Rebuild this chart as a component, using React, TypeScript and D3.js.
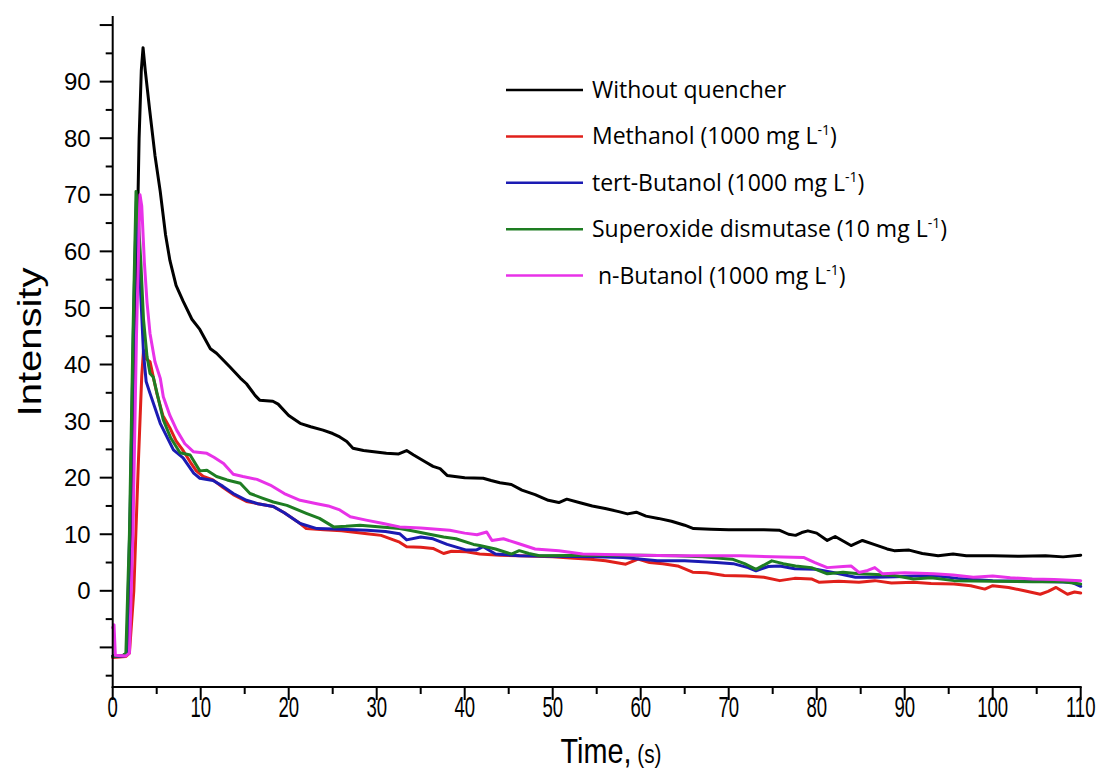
import React from "react";
import * as d3 from "d3";

type Pt = [number, number];

const SERIES_NAMES = [
  "Without quencher",
  "Methanol (1000 mg L",
  "tert-Butanol (1000 mg L",
  "Superoxide dismutase (10 mg L",
  " n-Butanol (1000 mg L",
];
const SERIES_SUP = [false, true, true, true, true];
const COLORS = ["#000000", "#e0201b", "#1b1bb3", "#1e7d22", "#e832e8"];

const X_TICKS = [0, 10, 20, 30, 40, 50, 60, 70, 80, 90, 100, 110];
const X_MINOR = [5, 15, 25, 35, 45, 55, 65, 75, 85, 95, 105];
const Y_TICKS = [-10, 0, 10, 20, 30, 40, 50, 60, 70, 80, 90, 100];
const Y_MINOR = [-15, -5, 5, 15, 25, 35, 45, 55, 65, 75, 85, 95];
const Y_LABELS = [0, 10, 20, 30, 40, 50, 60, 70, 80, 90];

const WITHOUT_QUENCHER: Pt[] = [
  [0, -11.5], [1.2, -11.4], [1.6, -11], [1.9, -5], [2.3, 20], [2.7, 55], [3.0, 80],
  [3.25, 92], [3.45, 96], [3.7, 92], [4.2, 85], [4.8, 77], [5.4, 70.6], [6.0, 63],
  [6.5, 58.4], [7.2, 54], [8.0, 51.2], [9.0, 48], [9.9, 46.2], [11.1, 42.8], [11.8, 42.0],
  [13.3, 39.6], [14.5, 37.6], [15.2, 36.6], [16.2, 34.5], [16.7, 33.7], [18.2, 33.5],
  [18.8, 33.0], [20, 31], [21.3, 29.6], [22.5, 29.0], [23.9, 28.4], [25.0, 27.8],
  [25.8, 27.2], [26.6, 26.4], [27.3, 25.2], [28.5, 24.8], [31.1, 24.3], [32.5, 24.2],
  [33.4, 24.8], [34.2, 24.0], [35.5, 22.8], [36.4, 22.0], [37.2, 21.6], [38, 20.4],
  [40, 20.0], [42.1, 19.9], [43, 19.5], [44, 19.1], [45.3, 18.8], [46.5, 17.8], [48, 17.0],
  [49.5, 16.0], [50.7, 15.6], [51.6, 16.2], [53, 15.6], [54.5, 15.0], [56.1, 14.5],
  [57.5, 14.0], [58.5, 13.6], [59.5, 13.9], [60.6, 13.2], [62, 12.8], [63.5, 12.3],
  [65, 11.6], [66, 11.0], [68, 10.9], [70, 10.8], [72, 10.8], [74, 10.8], [75.8, 10.7],
  [76.8, 10.0], [77.6, 9.8], [78.3, 10.3], [79, 10.6], [80, 10.2], [81.2, 8.9], [82.1, 9.6],
  [83, 8.8], [83.9, 8.0], [85.2, 8.9], [86.5, 8.2], [88, 7.4], [88.8, 7.1], [90.5, 7.2],
  [92, 6.6], [93.8, 6.2], [95.5, 6.5], [97, 6.2], [100, 6.2], [103, 6.1], [106, 6.2],
  [108, 6.0], [110, 6.3],
];

const METHANOL: Pt[] = [
  [0, -11.8], [1.5, -11.6], [1.9, -11], [2.4, 0], [2.9, 22], [3.3, 38], [3.5, 42.5],
  [3.8, 41], [4.24, 40.5], [5, 35], [5.7, 31], [6.5, 28.8], [7.2, 26.5], [8.0, 24.8],
  [8.8, 22.8], [9.5, 21.2], [10.3, 20.2], [11.4, 19.6], [12.5, 18.3], [13.7, 17.0],
  [15.2, 15.8], [16.5, 15.4], [18.25, 14.9], [19.5, 13.8], [21.3, 11.9], [22, 11.0],
  [24, 10.8], [26, 10.6], [28.9, 10.1], [30.5, 9.8], [31.9, 9.0], [32.6, 8.6], [33.4, 7.8],
  [35, 7.7], [36.4, 7.5], [37.6, 6.6], [38.5, 7.0], [40.2, 6.9], [41.7, 6.5], [44, 6.3],
  [46.2, 6.2], [50, 6.0], [52, 5.8], [54.3, 5.6], [56, 5.3], [58.3, 4.7], [59.7, 5.6],
  [61, 5.0], [62.5, 4.8], [64.2, 4.4], [65.9, 3.3], [67.5, 3.2], [69.5, 2.7], [72, 2.6],
  [74, 2.4], [75.8, 1.8], [77.5, 2.2], [79.4, 2.1], [80.3, 1.5], [82.5, 1.7], [84.8, 1.5],
  [86.6, 1.8], [88.5, 1.4], [91, 1.5], [93, 1.3], [95.6, 1.2], [97.5, 0.9], [99.1, 0.3],
  [100, 0.9], [101.8, 0.6], [103.6, 0.0], [105.4, -0.6], [106.3, -0.1], [107.2, 0.6],
  [108.5, -0.6], [109.3, -0.2], [110, -0.4],
];

const TERT_BUTANOL: Pt[] = [
  [0, -11.6], [1.3, -11.5], [1.6, -11], [2.0, 15], [2.4, 50], [2.7, 69], [2.95, 62],
  [3.2, 52], [3.5, 42], [3.8, 37], [4.24, 34.9], [5.4, 29.6], [6.9, 24.9], [8.0, 23.5],
  [9.2, 20.8], [9.9, 19.9], [11.4, 19.5], [12.5, 18.5], [13.7, 17.2], [15.2, 16.0],
  [16.5, 15.4], [18.25, 14.9], [19.5, 13.8], [21.3, 11.9], [23.2, 11.0], [26, 10.9],
  [28.9, 10.7], [31, 10.5], [32.6, 10.1], [33.4, 9.0], [35, 9.5], [36.4, 9.2], [38, 8.2],
  [40.2, 7.2], [41.3, 7.2], [42.1, 7.8], [43.5, 6.5], [46.2, 6.2], [50, 6.1], [55, 6.0],
  [58, 5.9], [61.9, 5.3], [65, 5.3], [68.6, 5.0], [70.5, 4.8], [72.2, 4.1], [73.1, 3.55],
  [74.5, 4.3], [75.8, 4.4], [77.5, 3.9], [79.9, 3.8], [82, 3.2], [84.4, 2.4], [86.6, 2.4],
  [89, 2.5], [91, 2.6], [93.3, 2.7], [96, 2.2], [100, 1.8], [104, 1.7], [107, 1.6],
  [109, 1.5], [110, 0.8],
];

const SOD: Pt[] = [
  [0, -11.6], [1.2, -11.4], [1.5, -11], [1.9, 10], [2.3, 45], [2.65, 70.6], [2.9, 66],
  [3.2, 58], [3.5, 48], [3.9, 41.4], [4.24, 38.4], [4.6, 37.8], [5.75, 30.2], [6.6, 27],
  [7.65, 24.4], [8.8, 24.0], [9.9, 21.2], [10.7, 21.3], [11.8, 20.2], [13, 19.6],
  [14.5, 19.0], [15.6, 17.2], [17, 16.4], [18.25, 15.7], [19.8, 15.1], [22, 13.7],
  [23.5, 12.8], [25.1, 11.3], [26.5, 11.4], [28.1, 11.6], [30.5, 11.3], [32.6, 11.0],
  [34, 10.6], [35.7, 10.1], [37.6, 9.5], [39, 9.2], [41, 8.2], [41.7, 8.0], [43.5, 7.4],
  [45.3, 6.5], [46.2, 7.1], [47.3, 6.6], [48.5, 6.2], [55, 6.3], [60, 6.3], [64, 6.2],
  [67, 6.0], [70.4, 5.6], [71.8, 4.8], [73.1, 3.8], [74.9, 5.3], [76.2, 4.8], [77.6, 4.4],
  [79.4, 4.1], [81.2, 3.0], [83, 3.3], [84.8, 3.0], [86.8, 2.9], [88.8, 2.7], [91, 2.1],
  [93, 2.3], [95.6, 1.8], [100, 1.7], [104.5, 1.6], [108, 1.6], [110, 1.2],
];

const N_BUTANOL: Pt[] = [
  [0, -6.5], [0.15, -6], [0.3, -11.4], [1.5, -11.5], [1.9, -11], [2.3, 10], [2.7, 45],
  [3.1, 70], [3.3, 68], [3.6, 58], [3.9, 51], [4.24, 45.5], [4.8, 40.5], [5.4, 37.6],
  [5.75, 34.3], [6.5, 31], [7.27, 28.4], [8.2, 26], [9.16, 24.6], [10.7, 24.3],
  [11.5, 23.6], [12.6, 22.5], [13.7, 20.6], [14.8, 20.2], [16.4, 19.7], [17.9, 18.7],
  [19.5, 17.2], [21.3, 16.0], [23.2, 15.4], [24.5, 15.0], [25.8, 14.3], [27, 13.1],
  [28.8, 12.5], [30.75, 11.9], [32.6, 11.3], [35, 11.1], [38.3, 10.7], [40, 10.2],
  [41.4, 9.9], [42.5, 10.4], [43.1, 8.9], [44.4, 9.2], [46, 8.4], [48, 7.4], [50.7, 7.1],
  [53.4, 6.5], [56, 6.4], [60, 6.3], [64.1, 6.2], [68, 6.2], [71.3, 6.2], [75, 6.0],
  [78.5, 5.9], [79.8, 5.0], [81.2, 4.1], [83, 4.3], [83.9, 4.4], [84.8, 3.25], [85.8, 3.6],
  [86.6, 4.1], [87.5, 3.0], [90, 3.2], [93.3, 3.0], [95.5, 2.8], [97.8, 2.4], [100, 2.6],
  [102, 2.3], [104.5, 2.1], [107, 2.0], [110, 1.8],
];

const SERIES = [WITHOUT_QUENCHER, METHANOL, TERT_BUTANOL, SOD, N_BUTANOL];

const W = 1108;
const H = 776;
const AXIS_FONT = "'Liberation Sans', Arial, sans-serif";
const LEGEND_FONT = "'Open Sans', 'Noto Sans', sans-serif";

const App = () => {
  const x = d3.scaleLinear().domain([0, 110]).range([112.7, 1080.7]);
  const y = d3.scaleLinear().domain([-17, 101.6]).range([687, 16]);
  const line = d3
    .line<Pt>()
    .x((d) => x(d[0]))
    .y((d) => y(d[1]));

  const x0 = x(0);
  const yBase = y(-17);

  return (
    <svg
      width={W}
      height={H}
      style={{ position: "absolute", left: 0, top: 0, background: "#fff" }}
    >
      {/* data */}
      <g fill="none" strokeWidth={3} strokeLinejoin="round" strokeLinecap="round">
        {SERIES.map((s, i) => (
          <path key={i} d={line(s) || ""} stroke={COLORS[i]} />
        ))}
      </g>

      {/* axes */}
      <g stroke="#000" strokeWidth={2}>
        <line x1={x0} x2={x0} y1={y(101.6)} y2={yBase + 1} />
        <line x1={x0 - 1} x2={x(110) + 1} y1={yBase} y2={yBase} />
        {Y_TICKS.map((t) => (
          <line key={"ym" + t} x1={x0 - 13} x2={x0} y1={y(t)} y2={y(t)} />
        ))}
        {Y_MINOR.map((t) => (
          <line key={"yn" + t} x1={x0 - 7} x2={x0} y1={y(t)} y2={y(t)} />
        ))}
        {X_TICKS.map((t) => (
          <line key={"xm" + t} x1={x(t)} x2={x(t)} y1={yBase} y2={yBase + 13} />
        ))}
        {X_MINOR.map((t) => (
          <line key={"xn" + t} x1={x(t)} x2={x(t)} y1={yBase} y2={yBase + 7} />
        ))}
      </g>

      <g fontFamily={AXIS_FONT} fill="#000">
        {Y_LABELS.map((t) => (
          <text key={"yl" + t} x={x0 - 22} y={y(t)} dy="0.36em" fontSize={24} textAnchor="end">
            {t}
          </text>
        ))}
        {X_TICKS.map((t) => (
          <text
            key={"xl" + t}
            transform={`translate(${x(t)},${yBase + 20}) scale(0.64,1)`}
            dy="0.36em"
            fontSize={29}
            textAnchor="middle"
          >
            {t}
          </text>
        ))}
        <text transform={`translate(611,763) scale(0.8,1)`} fontSize={36} textAnchor="middle">
          Time,
          <tspan fontSize={26}> (s)</tspan>
        </text>
        <text transform={`translate(41,342) rotate(-90) scale(1,0.85)`} fontSize={40} textAnchor="middle">
          Intensity
        </text>
      </g>

      {/* legend */}
      <g fontFamily={LEGEND_FONT} fontSize={23} fill="#000">
        {SERIES_NAMES.map((name, i) => {
          const ly = 90 + i * 46.4;
          return (
            <g key={name}>
              <line x1={506} x2={583} y1={ly} y2={ly} stroke={COLORS[i]} strokeWidth={2.5} />
              <text x={592} y={ly} dy="0.35em" xmlSpace="preserve">
                {name}
                {SERIES_SUP[i] ? (
                  <>
                    <tspan fontSize={14} dy={-9}>-1</tspan>
                    <tspan dy={9}>)</tspan>
                  </>
                ) : null}
              </text>
            </g>
          );
        })}
      </g>
    </svg>
  );
};

export default App;
